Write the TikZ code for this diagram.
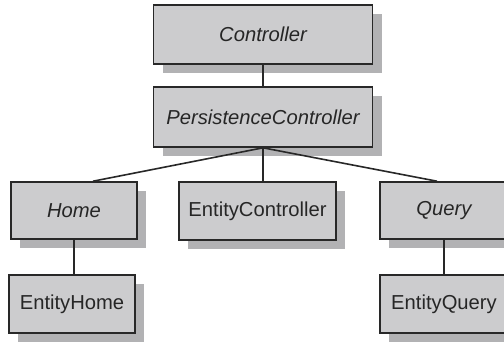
\documentclass[tikz,border=0pt]{standalone}
\usepackage{fontspec}
\setmainfont{Liberation Sans}
\usetikzlibrary{shadows}
\definecolor{boxfill}{RGB}{204,204,206}
\definecolor{boxshade}{RGB}{178,178,180}
\definecolor{boxline}{RGB}{40,40,40}
\begin{document}
\begin{tikzpicture}[x=1pt,y=-1pt,
  classbox/.style={draw=boxline, line width=1.6pt, fill=boxfill,
    inner sep=0pt, font=\fontsize{20.2}{23}\selectfont, text=black!85,
    drop shadow={shadow xshift=9pt, shadow yshift=-9pt, fill=boxshade, opacity=1}},
  link/.style={draw=boxline, line width=1.6pt},
  uplink/.style={draw=boxline, line width=2.6pt}]
\useasboundingbox (0,0) rectangle (504,341);

% abstract layer
\node[classbox, minimum width=219pt, minimum height=59pt] (ctrl) at (263,34.5) {\itshape Controller};
\node[classbox, minimum width=219pt, minimum height=60pt] (pctrl) at (263,117) {\itshape PersistenceController};

% second row
\node[classbox, minimum width=126pt, minimum height=57pt] (home) at (74,210.5) {\itshape Home};
\node[classbox, minimum width=157pt, minimum height=58pt] (ectrl) at (257.5,211) {EntityController};
\node[classbox, minimum width=128pt, minimum height=57pt] (query) at (444,210.5) {\itshape Query};

% concrete implementations
\node[classbox, minimum width=126pt, minimum height=58pt] (ehome) at (72,304) {EntityHome};
\node[classbox, minimum width=128pt, minimum height=58pt] (equery) at (444,304) {EntityQuery};

% connectors
\draw[uplink] (ctrl.south) -- (pctrl.north);
\draw[link] (pctrl.south) -- ([xshift=19pt]home.north);
\draw[uplink] (pctrl.south) -- ([xshift=5.5pt]ectrl.north);
\draw[link] (pctrl.south) -- ([xshift=-7pt]query.north);
\draw[uplink] (home.south) -- (home.south |- ehome.north);
\draw[uplink] (query.south) -- (query.south |- equery.north);
\end{tikzpicture}
\end{document}
